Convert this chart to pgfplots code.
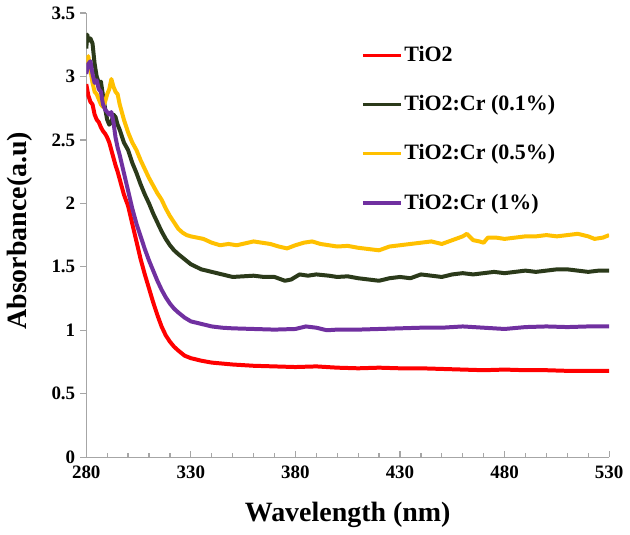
\documentclass[border=0pt]{standalone}
\usepackage{fontspec}
\setmainfont{Liberation Serif}
\usepackage{pgfplots}
\pgfplotsset{compat=1.18}
\definecolor{cTi}{HTML}{FF0000}
\definecolor{cCrA}{HTML}{2B3A1A}
\definecolor{cCrB}{HTML}{FFC000}
\definecolor{cCrC}{HTML}{7030A0}
\definecolor{axgray}{HTML}{A6A6A6}

\begin{document}
\begin{tikzpicture}
\begin{axis}[
    scale only axis,
    width=262pt, height=222.5pt,
    xmin=280, xmax=530,
    ymin=0, ymax=3.5,
    xtick={280,330,...,530},
    minor x tick num=4,
    ytick={0,0.5,...,3.5},
    axis lines=left,
    axis line style={-,draw=axgray,line width=0.6pt},
    tick style={draw=axgray,line width=0.6pt},
    tick align=inside,
    major tick length=3pt,
    minor tick length=2.2pt,
    major y tick style={xshift=-3pt},
    /pgf/number format/assume math mode=true,
    tick label style={font=\fontsize{9.5}{11}\selectfont\bfseries},
    yticklabel style={xshift=-2pt},
    xticklabel style={yshift=-1pt},
    xlabel={Wavelength (nm)},
    ylabel={Absorbance(a.u)},
    label style={font=\fontsize{14}{16}\selectfont\bfseries},
    xlabel style={at={(axis description cs:0.5,-0.085)},anchor=north},
    ylabel style={at={(axis description cs:-0.128,0.51)},anchor=center},
    legend style={draw=none,fill=none,inner sep=0pt,
        at={(axis description cs:0.525,0.935)},anchor=north west,
        row sep=11.5pt,
        font=\fontsize{11}{12}\selectfont\bfseries,
        nodes={inner xsep=1pt}},
    legend cell align=left,
    legend image code/.code={\draw[#1,line width=1.6pt] (0pt,0pt) -- (19pt,0pt);},
    every axis plot/.append style={line width=2pt, line join=round},
]
\addplot[cTi] coordinates {
(280,2.94)(281,2.85)(282,2.80)(283,2.78)(284,2.70)(285,2.66)(286,2.64)(287,2.60)
(288,2.57)(289,2.55)(290,2.52)(291,2.48)(292,2.42)(293,2.36)(294,2.30)(295,2.25)
(296,2.19)(297,2.13)(298,2.07)(300,1.98)(302,1.84)(304,1.70)(306,1.56)(308,1.44)
(310,1.33)(312,1.22)(314,1.12)(316,1.03)(318,0.96)(320,0.91)(322,0.87)(324,0.84)
(327,0.80)(330,0.78)(335,0.76)(340,0.745)(350,0.73)(360,0.72)(370,0.715)(380,0.71)
(390,0.715)(400,0.705)(410,0.70)(420,0.705)(430,0.70)(440,0.70)(450,0.695)(460,0.69)
(470,0.685)(480,0.69)(490,0.685)(500,0.685)(510,0.68)(520,0.68)(530,0.68)
};
\addlegendentry{TiO2}
\addplot[cCrA] coordinates {
(280,3.22)(280.5,3.33)(281,3.28)(282,3.30)(283,3.26)(284,3.10)(285,3.00)(286,2.95)
(287,2.96)(288,2.85)(289,2.75)(290,2.66)(291,2.62)(292,2.64)(293,2.70)(294,2.68)
(295,2.62)(296,2.58)(298,2.48)(300,2.42)(302,2.32)(304,2.24)(306,2.15)(308,2.07)
(310,2.00)(312,1.92)(314,1.85)(316,1.78)(318,1.72)(320,1.67)(322,1.63)(324,1.60)
(327,1.56)(330,1.52)(335,1.48)(340,1.46)(345,1.44)(350,1.42)(355,1.425)(360,1.43)
(365,1.42)(370,1.42)(375,1.39)(378,1.40)(382,1.44)(386,1.43)(390,1.44)(396,1.43)
(400,1.42)(405,1.425)(410,1.41)(415,1.40)(420,1.39)(425,1.41)(430,1.42)(435,1.41)
(440,1.44)(445,1.43)(450,1.42)(455,1.44)(460,1.45)(465,1.44)(470,1.45)(475,1.46)
(480,1.45)(485,1.46)(490,1.47)(495,1.46)(500,1.47)(505,1.48)(510,1.48)(515,1.47)
(520,1.46)(525,1.47)(530,1.47)
};
\addlegendentry{TiO2:Cr (0.1\%)}
\addplot[cCrB] coordinates {
(280,3.10)(281,3.16)(282,3.05)(283,2.95)(284,2.88)(285,2.86)(286,2.82)(287,2.78)
(288,2.76)(289,2.80)(290,2.86)(291,2.90)(292,2.98)(293,2.92)(294,2.88)(295,2.86)
(296,2.78)(297,2.72)(298,2.66)(300,2.56)(302,2.48)(304,2.42)(306,2.34)(308,2.27)
(310,2.20)(312,2.14)(314,2.08)(316,2.03)(318,1.96)(320,1.90)(322,1.85)(324,1.80)
(326,1.77)(328,1.75)(330,1.74)(333,1.73)(336,1.72)(340,1.69)(344,1.67)(348,1.68)
(352,1.67)(356,1.685)(360,1.70)(364,1.69)(368,1.68)(372,1.66)(376,1.645)(380,1.67)
(384,1.69)(388,1.70)(392,1.68)(396,1.67)(400,1.66)(405,1.665)(410,1.65)(415,1.64)
(420,1.63)(425,1.66)(430,1.67)(435,1.68)(440,1.69)(445,1.70)(450,1.68)(455,1.71)
(460,1.74)(462,1.76)(465,1.71)(468,1.70)(470,1.69)(472,1.73)(476,1.73)(480,1.72)
(485,1.73)(490,1.74)(495,1.74)(500,1.75)(505,1.74)(510,1.75)(515,1.76)(520,1.74)
(523,1.72)(527,1.73)(530,1.75)
};
\addlegendentry{TiO2:Cr (0.5\%)}
\addplot[cCrC] coordinates {
(280,3.02)(281,3.10)(282,3.12)(283,3.02)(284,2.95)(285,2.97)(286,2.90)(287,2.88)
(288,2.78)(289,2.74)(290,2.72)(291,2.70)(292,2.72)(293,2.64)(294,2.52)(295,2.44)
(296,2.38)(298,2.24)(300,2.10)(302,1.96)(304,1.84)(306,1.74)(308,1.64)(310,1.55)
(312,1.47)(314,1.39)(316,1.32)(318,1.26)(320,1.21)(322,1.17)(324,1.14)(327,1.10)
(330,1.07)(335,1.05)(340,1.03)(345,1.02)(350,1.015)(360,1.01)(370,1.005)(380,1.01)
(385,1.03)(390,1.02)(395,1.00)(400,1.005)(410,1.005)(420,1.01)(430,1.015)(440,1.02)
(450,1.02)(460,1.03)(470,1.02)(480,1.01)(490,1.025)(500,1.03)(510,1.025)(520,1.03)
(530,1.03)
};
\addlegendentry{TiO2:Cr (1\%)}
\end{axis}
\end{tikzpicture}
\end{document}
